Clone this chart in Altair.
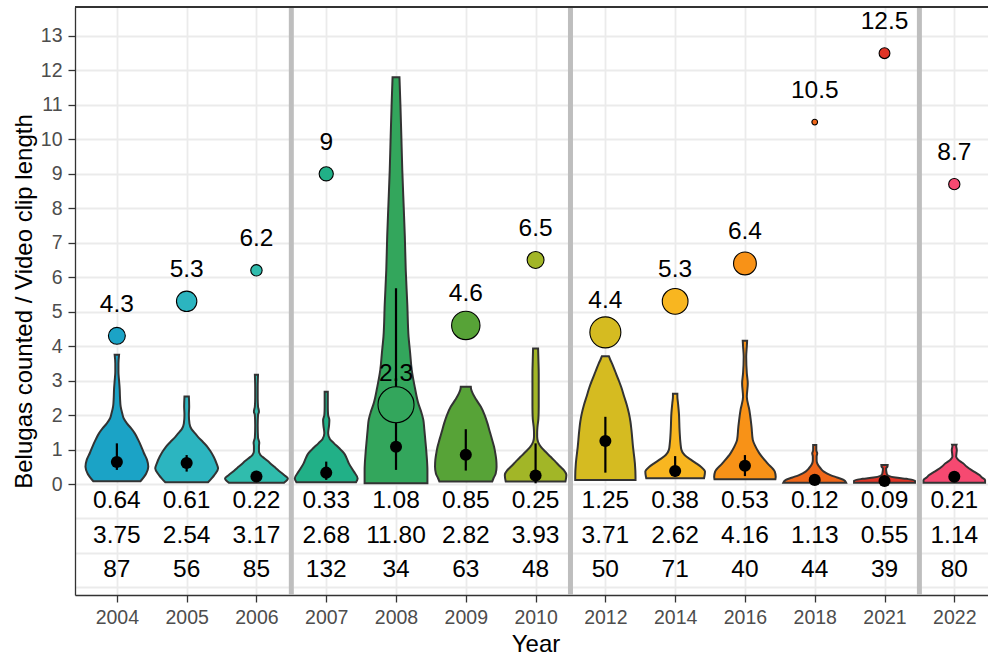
import altair as alt
import pandas as pd

# ---- survey years and per-year summaries ----
years = ["2004", "2005", "2006", "2007", "2008", "2009", "2010",
         "2012", "2014", "2016", "2018", "2021", "2022"]
mean_ratio = [0.64, 0.61, 0.22, 0.33, 1.08, 0.85, 0.25, 1.25, 0.38, 0.53, 0.12, 0.09, 0.21]
max_ratio = [3.75, 2.54, 3.17, 2.68, 11.80, 2.82, 3.93, 3.71, 2.62, 4.16, 1.13, 0.55, 1.14]
clip_count = [87, 56, 85, 132, 34, 63, 48, 50, 71, 40, 44, 39, 80]
spread_low = [0.41, 0.36, 0.06, 0.12, 0.41, 0.39, 0.02, 0.33, 0.21, 0.23, 0.03, 0.02, 0.06]
spread_high = [1.18, 0.84, 0.38, 0.65, 5.68, 1.59, 1.18, 1.95, 0.81, 0.84, 0.25, 0.20, 0.36]

# highlighted single-clip ratio per year and its relative weight (circle area)
peak_ratio = [4.3, 5.3, 6.2, 9, 2.3, 4.6, 6.5, 4.4, 5.3, 6.4, 10.5, 12.5, 8.7]
peak_weight = [0.22, 0.32, 0.10, 0.155, 1.0, 0.62, 0.22, 0.74, 0.51, 0.40, 0.025, 0.09, 0.097]

hue_circle = ["#1ba3c6", "#2cb5c0", "#30bcad", "#21b087", "#33a65c", "#57a337", "#a2b627",
              "#d5bb21", "#f8b620", "#f89217", "#f06719", "#e03426", "#f64971"]

# first year of each survey period (a divider is drawn before it)
period_starts = ["2007", "2012", "2022"]

# violin outlines: (ratio level, half-width relative to the widest point)
outline_2004 = [(0.08, 0.75), (0.3, 0.93), (0.5, 1.0), (0.7, 0.96), (0.9, 0.86), (1.08, 0.78),
                (1.28, 0.68), (1.47, 0.57), (1.62, 0.45), (1.76, 0.32), (1.9, 0.22), (2.05, 0.17),
                (2.25, 0.12), (2.5, 0.10), (2.75, 0.09), (3.0, 0.07), (3.25, 0.05), (3.5, 0.05),
                (3.75, 0.07)]
outline_2005 = [(0.05, 0.68), (0.26, 0.88), (0.45, 1.0), (0.6, 0.95), (0.79, 0.86), (0.95, 0.76),
                (1.08, 0.66), (1.22, 0.52), (1.37, 0.36), (1.5, 0.24), (1.6, 0.15), (1.75, 0.09),
                (2.0, 0.07), (2.25, 0.08), (2.54, 0.07)]
outline_2006 = [(0.04, 0.88), (0.16, 1.0), (0.26, 0.88), (0.38, 0.72), (0.5, 0.57), (0.62, 0.42),
                (0.74, 0.26), (0.84, 0.13), (0.95, 0.08), (1.1, 0.08), (1.2, 0.09), (1.35, 0.05),
                (1.7, 0.04), (2.0, 0.05), (2.1, 0.08), (2.25, 0.05), (2.5, 0.04), (2.8, 0.04),
                (3.17, 0.05)]
outline_2007 = [(0.05, 0.95), (0.16, 1.0), (0.36, 0.88), (0.6, 0.72), (0.75, 0.65), (0.89, 0.57),
                (1.05, 0.40), (1.18, 0.25), (1.3, 0.12), (1.47, 0.06), (1.7, 0.09), (1.86, 0.10),
                (2.0, 0.06), (2.24, 0.05), (2.5, 0.05), (2.68, 0.05)]
outline_2008 = [(0.02, 1.0), (0.4, 1.0), (0.89, 0.97), (1.3, 0.93), (1.6, 0.90), (1.86, 0.87),
                (2.1, 0.80), (2.34, 0.71), (2.8, 0.60), (3.31, 0.50), (3.8, 0.45), (4.27, 0.40),
                (5.2, 0.36), (6.21, 0.31), (7.2, 0.28), (8.15, 0.24), (9.1, 0.20), (10.08, 0.17),
                (11.0, 0.14), (11.80, 0.11)]
outline_2009 = [(0.07, 0.84), (0.16, 0.88), (0.3, 0.95), (0.5, 0.98), (0.7, 0.97), (0.89, 0.94),
                (1.08, 0.90), (1.28, 0.84), (1.5, 0.77), (1.76, 0.69), (2.0, 0.60), (2.24, 0.48),
                (2.45, 0.33), (2.63, 0.22), (2.75, 0.17), (2.82, 0.16)]
outline_2010 = [(0.07, 0.95), (0.26, 0.98), (0.4, 0.90), (0.5, 0.79), (0.65, 0.63), (0.79, 0.48),
                (0.95, 0.30), (1.08, 0.17), (1.22, 0.08), (1.37, 0.05), (1.5, 0.05), (1.66, 0.06),
                (1.9, 0.09), (2.24, 0.10), (2.7, 0.10), (3.21, 0.10), (3.6, 0.09), (3.93, 0.08)]
outline_2012 = [(0.12, 0.96), (0.21, 0.96), (0.6, 0.94), (1.08, 0.88), (1.57, 0.83), (1.8, 0.80),
                (2.05, 0.75), (2.3, 0.68), (2.53, 0.60), (2.8, 0.51), (3.02, 0.42), (3.25, 0.32),
                (3.5, 0.21), (3.62, 0.15), (3.71, 0.11)]
outline_2014 = [(0.17, 0.92), (0.21, 0.93), (0.36, 0.95), (0.5, 0.82), (0.6, 0.67), (0.7, 0.51),
                (0.84, 0.30), (0.99, 0.20), (1.18, 0.17), (1.57, 0.14), (2.05, 0.12), (2.35, 0.09),
                (2.53, 0.07), (2.62, 0.07)]
outline_2016 = [(0.14, 0.97), (0.21, 0.98), (0.36, 0.95), (0.6, 0.72), (0.89, 0.46), (1.1, 0.33),
                (1.28, 0.25), (1.66, 0.21), (2.15, 0.14), (2.53, 0.06), (2.92, 0.09), (3.21, 0.06),
                (3.69, 0.04), (4.0, 0.06), (4.16, 0.07)]
outline_2018 = [(0.04, 1.0), (0.12, 0.92), (0.19, 0.71), (0.26, 0.50), (0.36, 0.29), (0.45, 0.19),
                (0.6, 0.08), (0.7, 0.06), (0.8, 0.06), (0.89, 0.08), (0.98, 0.05), (1.13, 0.05)]
outline_2021 = [(0.04, 0.97), (0.10, 0.97), (0.15, 0.70), (0.19, 0.35), (0.23, 0.15), (0.28, 0.08),
                (0.35, 0.06), (0.45, 0.05), (0.5, 0.09), (0.55, 0.10)]
outline_2022 = [(0.04, 0.98), (0.12, 0.98), (0.19, 0.88), (0.26, 0.80), (0.33, 0.68), (0.41, 0.54),
                (0.51, 0.39), (0.6, 0.28), (0.7, 0.13), (0.79, 0.06), (0.9, 0.07), (0.99, 0.08),
                (1.1, 0.06), (1.14, 0.07)]
outlines = [outline_2004, outline_2005, outline_2006, outline_2007, outline_2008, outline_2009,
            outline_2010, outline_2012, outline_2014, outline_2016, outline_2018, outline_2021,
            outline_2022]

# ---- tables ----
HALF = 0.45  # half of the violin width, in category units
violin_rows = []
for i, (yr, shape) in enumerate(zip(years, outlines)):
    for level, w in shape:
        violin_rows.append({"year": yr, "level": level,
                            "left": i - w * HALF, "right": i + w * HALF})
violins = pd.DataFrame(violin_rows)

summary = pd.DataFrame({
    "pos": list(range(len(years))), "year": years, "mean": mean_ratio,
    "low": spread_low, "high": spread_high, "peak": peak_ratio, "weight": peak_weight,
    "peak_label": [f"{v:g}" for v in peak_ratio],
})

stat_rows = []
for i, yr in enumerate(years):
    for row, txt in enumerate([f"{mean_ratio[i]:.2f}", f"{max_ratio[i]:.2f}", f"{clip_count[i]}"]):
        stat_rows.append({"pos": i, "year": yr, "row": row + 1, "text": txt})
stats = pd.DataFrame(stat_rows)

dividers = pd.DataFrame({"pos": [years.index(y) - 0.5 for y in period_starts]})

# ---- scales & axes ----
FONT = "Liberation Sans"
W, H = 913, 588
x_scale = alt.Scale(domain=[-0.6, 12.483], nice=False, zero=False)
y_scale = alt.Scale(domain=[-3.22, 13.84], nice=False, zero=False)
year_lookup = "[" + ",".join(f"'{y}'" for y in years) + "][datum.value]"
major_test = "datum.value >= 0 && datum.value % 1 === 0"

x_axis = alt.Axis(
    values=list(range(len(years))), labelExpr=year_lookup, title="Year",
    grid=True, gridColor="#EBEBEB", gridWidth=1.8,
    domainColor="#333333", domainWidth=1.3, tickColor="#333333", tickWidth=1.3, tickSize=7,
    labelColor="#4D4D4D", labelFontSize=19.5, labelFont=FONT, labelPadding=6,
    labelFlush=False, labelOverlap=False,
    titleFont=FONT, titleFontSize=24, titleFontWeight="normal", titleColor="black",
    titleX=460.5, titleY=56, titleBaseline="alphabetic",
)
y_axis = alt.Axis(
    values=[v / 2 for v in range(-6, 28)], format="d",
    labelExpr=f"{major_test} ? datum.label : ''",
    tickOpacity={"condition": {"test": major_test, "value": 1}, "value": 0},
    grid=True, gridColor="#EBEBEB",
    gridWidth={"condition": {"test": "datum.value % 1 === 0", "value": 1.8}, "value": 1.0},
    domainColor="#333333", domainWidth=1.3, tickColor="#333333", tickWidth=1.3, tickSize=7,
    labelColor="#4D4D4D", labelFontSize=19.5, labelFont=FONT, labelPadding=6,
    labelOverlap=False,
    title="Belugas counted / Video clip length",
    titleFont=FONT, titleFontSize=24, titleFontWeight="normal", titleColor="black",
    titleX=-44, titleY=H / 2, titleBaseline="alphabetic",
)


def X(field):
    return alt.X(field, type="quantitative", scale=x_scale, axis=x_axis)


def Y(field):
    return alt.Y(field, type="quantitative", scale=y_scale, axis=y_axis)


year_colors = alt.Scale(domain=years, range=hue_circle)

# ---- layers ----
divider_layer = alt.Chart(dividers).mark_rule(color="#BEBEBE", strokeWidth=5).encode(
    x=X("pos"), y=alt.value(0), y2=alt.value(H)
)

violin_layer = alt.Chart(violins).mark_area(
    orient="horizontal", interpolate="monotone", stroke="#333333", strokeWidth=2, opacity=1
).encode(
    y=Y("level"), x=X("left"), x2="right",
    color=alt.Color("year:N", scale=year_colors, legend=None),
)

spread_layer = alt.Chart(summary).mark_rule(color="black", strokeWidth=2.2).encode(
    x=X("pos"), y=Y("low"), y2="high"
)

mean_layer = alt.Chart(summary).mark_circle(color="black", size=145, opacity=1).encode(
    x=X("pos"), y=Y("mean")
)

peak_layer = alt.Chart(summary).mark_circle(stroke="black", strokeWidth=1.1, opacity=1).encode(
    x=X("pos"), y=Y("peak"),
    fill=alt.Fill("year:N", scale=year_colors, legend=None),
    size=alt.Size("weight:Q", scale=alt.Scale(domain=[0, 1], range=[0, 1300], zero=True),
                  legend=None),
)

peak_text = alt.Chart(summary).mark_text(
    font=FONT, fontSize=24.5, color="black", baseline="middle", dy=-31
).encode(x=X("pos"), y=Y("peak"), text="peak_label:N")

stat_text = alt.Chart(stats).transform_calculate(
    row_y="0.5 - datum.row"
).mark_text(font=FONT, fontSize=24.5, color="black", baseline="middle").encode(
    x=X("pos"), y=Y("row_y"), text="text:N"
)

top_border = alt.Chart(summary).mark_rule(color="#333333", strokeWidth=1.3).encode(
    x=alt.value(0), x2=alt.value(W), y=alt.value(0)
)

chart = alt.layer(
    divider_layer, violin_layer, spread_layer, mean_layer, peak_layer, peak_text, stat_text,
    top_border,
).properties(
    width=W, height=H,
    padding={"left": 75, "top": 7, "right": 0, "bottom": 60},
    autosize=alt.AutoSizeParams(type="none"),
).configure_view(stroke=None).configure(background="white")

chart.save("out.html", embed_options={"renderer": "svg", "actions": False})
